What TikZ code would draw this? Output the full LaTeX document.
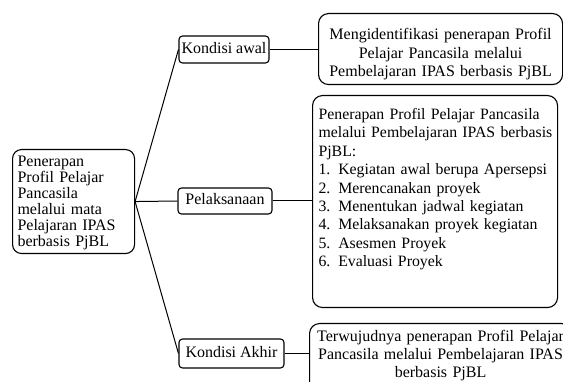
\documentclass[tikz,border=0pt]{standalone}
\usepackage{fontspec}
\setmainfont{Liberation Serif}
\begin{document}
\begin{tikzpicture}[x=1pt,y=-1pt,
  every node/.style={font=\fontsize{16}{18}\selectfont},
  bigbox/.style={draw, line width=1.1pt, rounded corners=10pt, anchor=north west, inner xsep=0pt, inner ysep=0pt},
  smallbox/.style={draw, line width=1.1pt, rounded corners=3.5pt, inner sep=0pt, text height=11pt, text depth=3pt},
  conn/.style={line width=1pt}]
\useasboundingbox (0,0) rectangle (563,382);
\clip (0,0) rectangle (563,382);
% main box
\node[bigbox, rounded corners=9pt, text width=112pt, align=left, text height=17pt, text depth=87pt, inner xsep=5pt,
      font=\fontsize{16}{16}\selectfont] (main) at (12,149)
  {Penerapan\\Profil Pelajar\\Pancasila\\melalui mata\\Pelajaran IPAS\\berbasis PjBL};
% middle boxes
\node[smallbox, minimum width=90pt, minimum height=27pt] (kawal) at (224,49.5) {Kondisi awal};
\node[smallbox, minimum width=94pt, minimum height=26pt] (pel) at (225,201) {Pelaksanaan};
\node[smallbox, minimum width=105pt, minimum height=29pt] (kakhir) at (231.5,353.5) {Kondisi Akhir};
% right boxes
\node[bigbox, text width=244pt, align=center, text height=26pt, text depth=45pt,
      font=\fontsize{16}{18.5}\selectfont] (b1) at (318,13)
  {Mengidentifikasi penerapan Profil\\Pelajar Pancasila melalui\\Pembelajaran IPAS berbasis PjBL};
\node[bigbox, text width=245pt, align=left, text height=24pt, text depth=188pt, inner xsep=0pt,
      font=\fontsize{15.8}{18.4}\selectfont] (b2) at (312,95)
  {\hspace*{6pt}\parbox[t]{239pt}{\raggedright\hyphenpenalty=10000 Penerapan Profil Pelajar Pancasila\\melalui Pembelajaran IPAS berbasis\\PjBL:\\1. Kegiatan awal berupa Apersepsi\\2. Merencanakan proyek\\3. Menentukan jadwal kegiatan\\4. Melaksanakan proyek kegiatan\\5. Asesmen Proyek\\6. Evaluasi Proyek}};
\node[bigbox, text width=262pt, align=center, text height=18pt, text depth=59pt,
      font=\fontsize{16}{18}\selectfont] (b3) at (309,323)
  {Terwujudnya penerapan Profil Pelajar\\Pancasila melalui Pembelajaran IPAS\\berbasis PjBL};
% connectors
\draw[conn] (main.east) -- (kawal.west);
\draw[conn] (main.east) -- (pel.west);
\draw[conn] (main.east) -- (kakhir.west);
\draw[conn] (kawal.east) -- (kawal.east -| b1.west);
\draw[conn] (pel.east) -- (pel.east -| b2.west);
\draw[conn] (kakhir.east) -- (kakhir.east -| b3.west);
\end{tikzpicture}
\end{document}
